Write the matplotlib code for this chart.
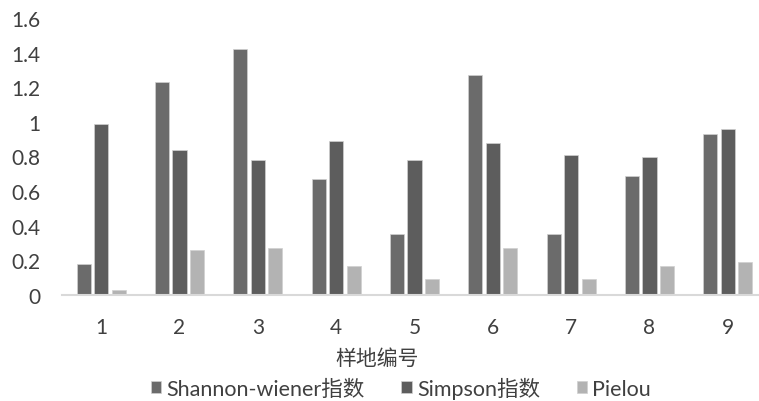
import matplotlib
matplotlib.use("Agg")
import matplotlib.pyplot as plt
import numpy as np

plt.rcParams['font.family'] = ['Lato', 'Noto Sans CJK SC', 'DejaVu Sans']

sites = ["1", "2", "3", "4", "5", "6", "7", "8", "9"]
shannon = [0.18, 1.23, 1.42, 0.67, 0.35, 1.27, 0.35, 0.69, 0.93]
simpson = [0.99, 0.84, 0.78, 0.89, 0.78, 0.88, 0.81, 0.80, 0.96]
pielou = [0.03, 0.26, 0.27, 0.17, 0.09, 0.27, 0.09, 0.17, 0.19]

series_names = ["Shannon-wiener指数", "Simpson指数", "Pielou"]
colors = ["#6b6b6b", "#5d5d5d", "#b3b3b3"]
yticks = [0, 0.2, 0.4, 0.6, 0.8, 1, 1.2, 1.4, 1.6]
ytick_labels = ["0", "0.2", "0.4", "0.6", "0.8", "1", "1.2", "1.4", "1.6"]

W, H = 759, 402
fig = plt.figure(figsize=(W / 100, H / 100), dpi=100)
ax = fig.add_axes([62 / W, 106 / H, (767 - 62) / W, (383 - 106) / H])

x = np.arange(len(sites))
width = 0.18
step = 0.223
for i, (vals, name, c) in enumerate(zip([shannon, simpson, pielou], series_names, colors)):
    ax.bar(x + (i - 1) * step, vals, width=width, color=c, label=name,
           edgecolor="#d0d0d0", linewidth=0.5)

ax.set_xlim(-0.5, len(sites) - 0.5)
ax.set_ylim(0, 1.6)
ax.set_yticks(yticks)
ax.set_yticklabels(ytick_labels)
ax.set_xticks(x)
ax.set_xticklabels(sites)
ax.tick_params(axis="both", length=0, labelsize=15, colors="#404040")
ax.tick_params(axis="y", pad=15.5)
ax.tick_params(axis="x", pad=16)

for s in ["top", "right", "left"]:
    ax.spines[s].set_visible(False)
ax.spines["bottom"].set_color("#d9d9d9")
ax.spines["bottom"].set_linewidth(1.5)

fig.text(377 / W, 1 - 359 / H, "样地编号", ha="center", va="center",
         fontsize=15, color="#404040")

fig.legend(loc="center", bbox_to_anchor=(401 / W, 1 - 389 / H), ncol=3,
           frameon=False, fontsize=15.5, handlelength=0.48, handleheight=0.48,
           handletextpad=0.25, columnspacing=1.7, labelcolor="#404040",
           borderaxespad=0, borderpad=0)

fig.savefig("out.png", dpi=100)
